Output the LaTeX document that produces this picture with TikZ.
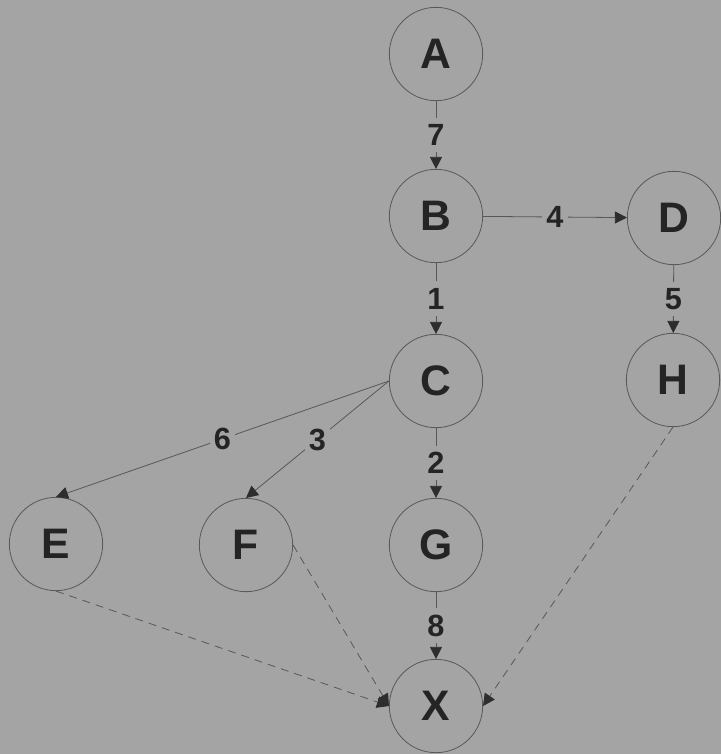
\documentclass[tikz,border=0pt]{standalone}
\usepackage{fontspec}
\setmainfont{Liberation Sans}
\usetikzlibrary{arrows.meta}
\definecolor{bg}{RGB}{164,164,164}
\definecolor{ink}{RGB}{36,36,36}
\definecolor{edgec}{RGB}{88,88,88}
\definecolor{tipc}{RGB}{45,45,45}
\begin{document}
\begin{tikzpicture}[x=0.75pt,y=-0.75pt,
  state/.style={circle,draw=edgec,line width=0.6pt,minimum size=70pt,inner sep=0pt,
    font=\bfseries\fontsize{32}{32}\selectfont,text=ink},
  arr/.style={draw=edgec,line width=0.6pt,-{Triangle[width=9pt,length=9pt,color=tipc]}},
  dsh/.style={arr,dash pattern=on 6pt off 4.5pt},
  lbl/.style={fill=bg,inner xsep=3pt,inner ysep=5pt,
    font=\bfseries\fontsize{23}{23}\selectfont,text=ink}]
\fill[bg] (0,0) rectangle (721,754);
\useasboundingbox (0,0) rectangle (721,754);
\node[state] (A) at (436,54) {A};
\node[state] (B) at (436,216) {B};
\node[state] (D) at (674,218) {D};
\node[state] (C) at (436,381) {C};
\node[state] (H) at (673,380) {H};
\node[state] (E) at (56,544) {E};
\node[state] (F) at (246,545) {F};
\node[state] (G) at (436,545) {G};
\node[state] (X) at (436,706) {X};
\draw[arr] (A) -- node[lbl]{7} (B);
\draw[arr] (B) -- node[lbl]{4} (D);
\draw[arr] (B) -- node[lbl]{1} (C);
\draw[arr] (D) -- node[lbl]{5} (H);
\draw[arr] (C.west) -- node[lbl]{6} (E.north);
\draw[arr] (C.west) -- node[lbl]{3} (F.north);
\draw[arr] (C) -- node[lbl]{2} (G);
\draw[arr] (G) -- node[lbl]{8} (X);
\draw[dsh] (E.south) -- (X.west);
\draw[dsh] (F.east) -- (X.west);
\draw[dsh] (H.south) -- (X.east);
\end{tikzpicture}
\end{document}
